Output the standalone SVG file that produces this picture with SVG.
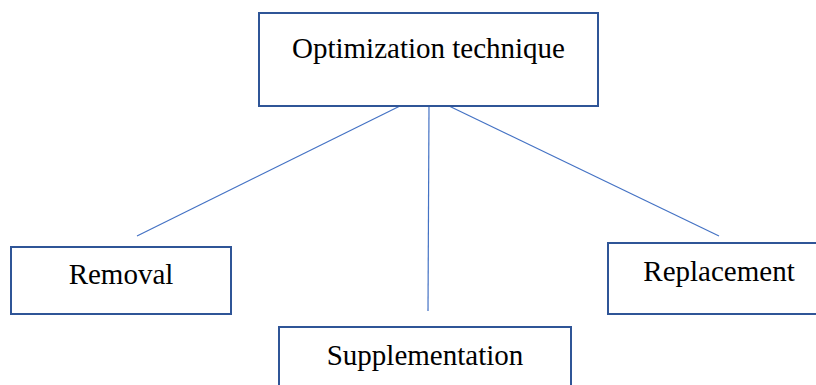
<svg xmlns="http://www.w3.org/2000/svg" width="816" height="385" viewBox="0 0 816 385">
<style>
.box{fill:#fff;stroke:#2f5597;stroke-width:2}
.lbl{font-family:"Liberation Serif","Times New Roman",serif;font-size:29px;fill:#000}
.con{stroke:#4472c4;stroke-width:1.2;fill:none}
</style>
<rect width="816" height="385" fill="#fff"/>
<g id="connectors">
<line class="con" x1="400" y1="106" x2="137" y2="236"/>
<line class="con" x1="429" y1="106" x2="428" y2="311"/>
<line class="con" x1="449" y1="106" x2="719" y2="236"/>
</g>
<g id="optimization">
<rect class="box" x="259" y="13" width="339" height="93"/>
<text class="lbl" x="428.5" y="58" text-anchor="middle">Optimization technique</text>
</g>
<g id="removal">
<rect class="box" x="11" y="247" width="220" height="67"/>
<text class="lbl" x="121" y="284" text-anchor="middle">Removal</text>
</g>
<g id="supplementation">
<rect class="box" x="279" y="327" width="292" height="70"/>
<text class="lbl" x="425" y="365" text-anchor="middle">Supplementation</text>
</g>
<g id="replacement">
<rect class="box" x="608" y="243" width="215" height="71"/>
<text class="lbl" x="719" y="281" text-anchor="middle">Replacement</text>
</g>
</svg>
